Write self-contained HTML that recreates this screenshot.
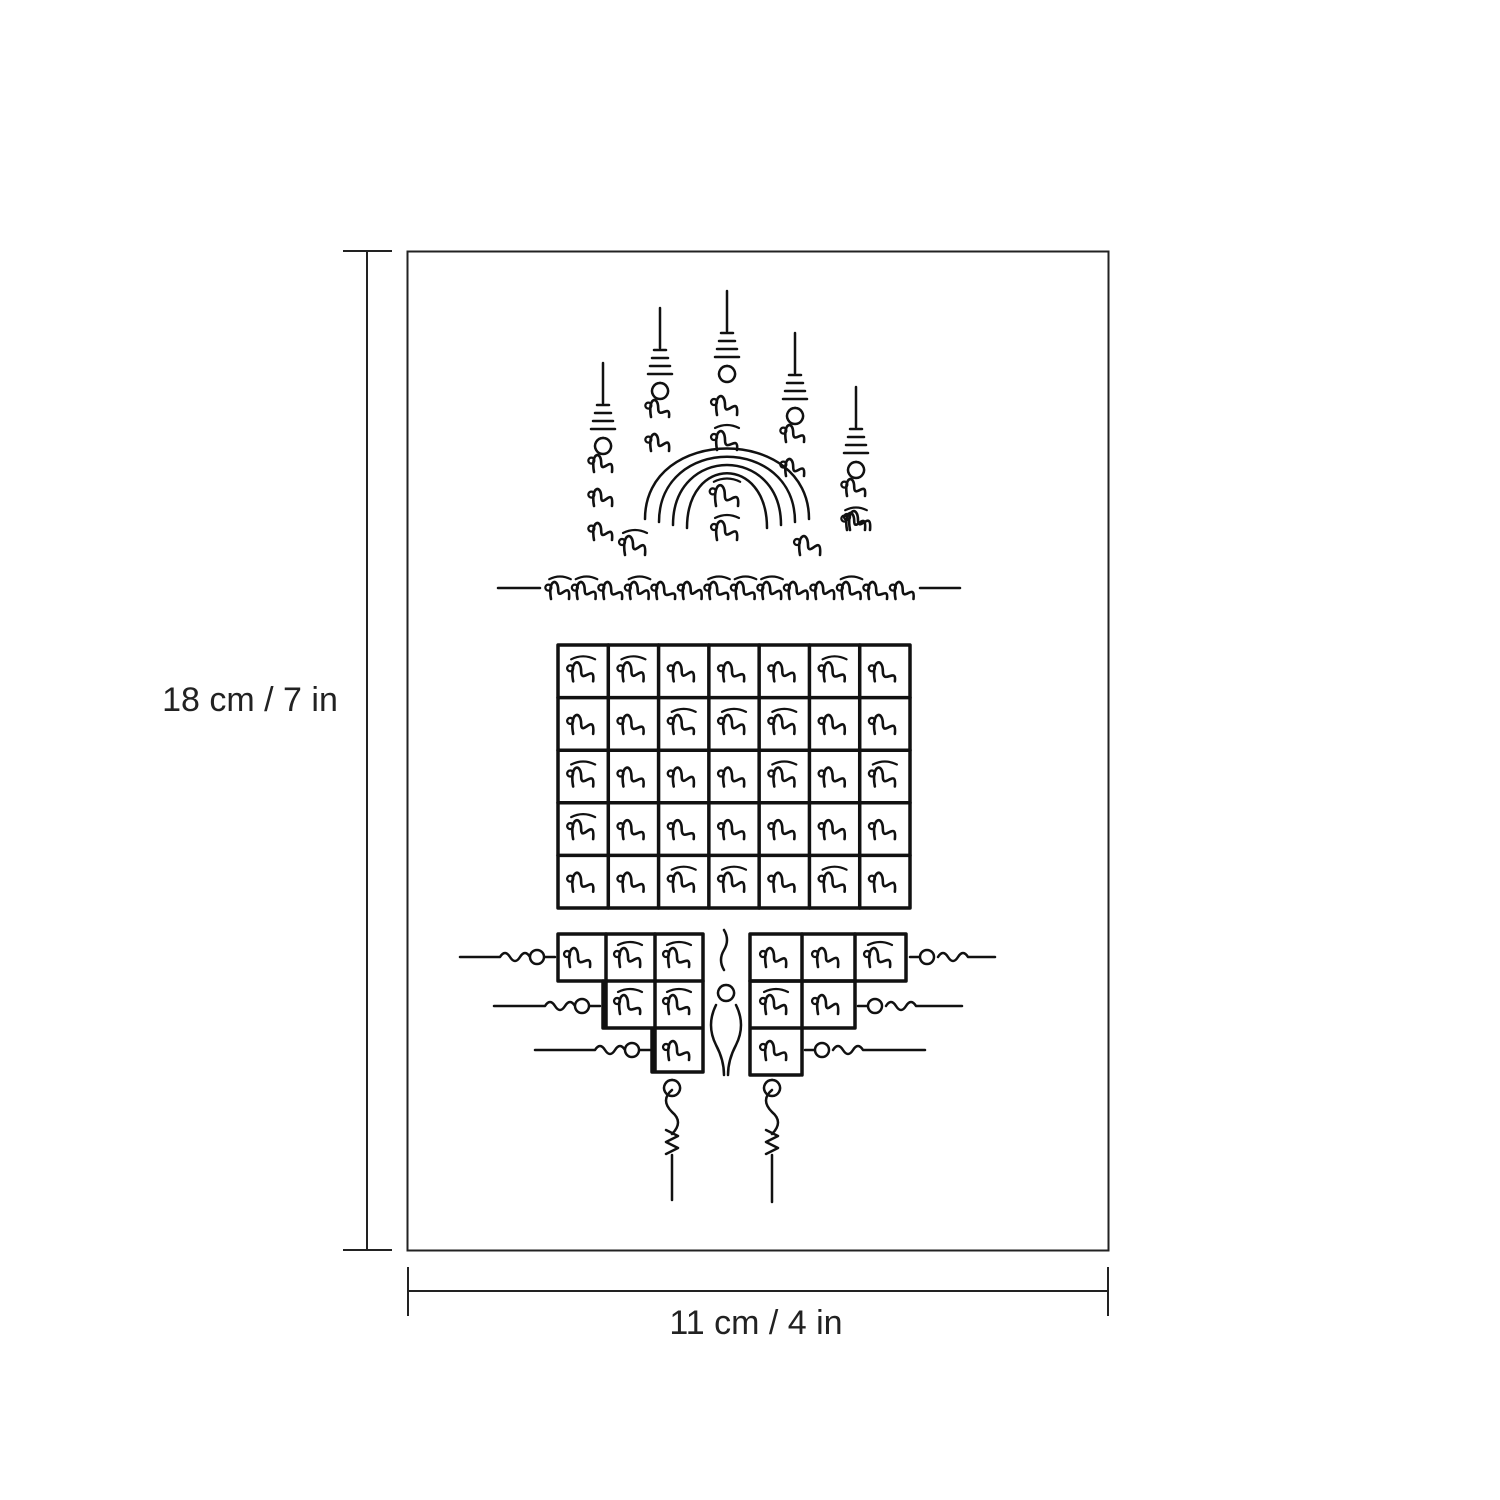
<!DOCTYPE html>
<html><head><meta charset="utf-8"><style>
html,body{margin:0;padding:0;background:#fff;}
svg{display:block}
</style></head><body>
<svg id="s" width="1500" height="1500" viewBox="0 0 1500 1500" xmlns="http://www.w3.org/2000/svg" font-family="Liberation Sans, sans-serif">
<rect x="0" y="0" width="1500" height="1500" fill="#fff"/>
<g stroke="#222" stroke-width="2" fill="none">
<rect x="407.5" y="251.5" width="701" height="999"/>
<line x1="367" y1="251" x2="367" y2="1250"/>
<line x1="343" y1="251" x2="392" y2="251"/>
<line x1="343" y1="1250" x2="392" y2="1250"/>
<line x1="408" y1="1291" x2="1108" y2="1291"/>
<line x1="408" y1="1267" x2="408" y2="1316"/>
<line x1="1108" y1="1267" x2="1108" y2="1316"/>
</g>
<text x="250" y="711" font-size="34" text-anchor="middle" fill="#222" font-weight="300">18 cm / 7 in</text>
<text x="756" y="1334" font-size="34" text-anchor="middle" fill="#222" font-weight="300">11 cm / 4 in</text>
<g id="ink" stroke="#111" stroke-width="3" fill="none" stroke-linecap="round" stroke-linejoin="round"></g>
</svg>
<script>
var g=document.getElementById('ink');
function P(d,w){var p=document.createElementNS('http://www.w3.org/2000/svg','path');p.setAttribute('d',d);if(w)p.setAttribute('stroke-width',w);g.appendChild(p);}
function R(x,y,w,h){P('M'+x+' '+y+'h'+w+'v'+h+'h'+(-w)+'z',3.5);}
var seed=7;function rnd(){seed=(seed*9301+49297)%233280;return seed/233280;}
function glyph(cx,cy,s){s=s||1;var a=rnd(),b=rnd();
 var d='M'+(cx-10*s)+' '+(cy+10*s)+' C'+(cx-14*s)+' '+(cy-12*s)+' '+(cx-2*s)+' '+(cy-14*s)+' '+(cx-2*s)+' '+(cy)+
 ' S'+(cx+12*s)+' '+(cy+(a*10-14)*s)+' '+(cx+10*s)+' '+(cy+10*s);
 P(d,2.6);
 P('M'+(cx-13*s)+' '+(cy-6*s)+' a3 3 0 1 0 0.1 0',2.2);
 if(b>0.5)P('M'+(cx-12*s)+' '+(cy-12*s)+' q'+(12*s)+' '+(-6*s)+' '+(24*s)+' 0',2.2);
}
// main grid
var x0=558,y0=645,cw=(910-558)/7,rh=(908-645)/5;
R(x0,y0,352,263);
for(var i=1;i<7;i++)P('M'+(x0+i*cw)+' '+y0+'V908',3.5);
for(var j=1;j<5;j++)P('M'+x0+' '+(y0+j*rh)+'H910',3.5);
for(var i=0;i<7;i++)for(var j=0;j<5;j++)glyph(x0+cw*(i+.5),y0+rh*(j+.5),1);
// lower left boxes
R(558,934,145,47);P('M606 934V1028M655 934V1072M603 981V1028H703M652 1028V1072H703M703 981V1072',3.5);
glyph(580,957);glyph(630,957);glyph(679,957);glyph(630,1004);glyph(679,1004);glyph(679,1050);
R(750,934,156,47);P('M802 934V1075M855 934V1028M750 981V1075H800M750 1028H802M750 981H855V1028H750',3.5);
glyph(776,957);glyph(828,957);glyph(880,957);glyph(776,1004);glyph(828,1004);glyph(776,1050);
// side strokes with squiggles
function lineL(x1,x2,y){P('M'+x1+' '+y+'H'+(x2-55)+' q5 -8 10 0 t10 0 t10 0 M'+(x2-25)+' '+y+' a7 7 0 1 0 14 0 a7 7 0 1 0 -14 0 M'+(x2-10)+' '+y+'h10',2.5);}
function lineR(x1,x2,y){P('M'+x1+' '+y+'h10 M'+(x1+10)+' '+y+' a7 7 0 1 0 14 0 a7 7 0 1 0 -14 0 M'+(x1+28)+' '+y+' q5 -8 10 0 t10 0 t10 0 H'+x2,2.5);}
lineL(460,555,957);lineL(494,600,1006);lineL(535,650,1050);
lineR(910,995,957);lineR(858,962,1006);lineR(805,925,1050);
// center column
P('M724 930 q6 10 0 20 q-6 10 0 20 M726 985 a8 8 0 1 0 0.1 0 M716 1005 q-10 20 0 40 q8 15 8 30 M736 1005 q10 20 0 40 q-8 15 -8 30',2.5);
// bottom stems
function stem(x,y1,y2){P('M'+x+' '+y1+' a8 8 0 1 0 0.1 0 M'+x+' '+(y1+10)+' q-12 10 0 22 q12 10 0 22 M'+(x-6)+' '+(y1+50)+' l12 6 l-12 6 l12 6 l-12 6 M'+x+' '+(y1+75)+'V'+y2,2.5);}
stem(672,1080,1200);stem(772,1080,1202);
// header line
P('M498 588H540',2.5);P('M920 588H960',2.5);
for(var k=0;k<14;k++)glyph(560+k*26.5,590,0.9);
// top stems
function tstem(x,top,bot){P('M'+x+' '+top+'V'+(top+40),2.5);for(var t=0;t<4;t++)P('M'+(x-6-t*2)+' '+(top+42+t*8)+'h'+(12+t*4),2.5);P('M'+x+' '+(top+75)+' a8 8 0 1 0 0.1 0',2.5);
 for(var y=top+100;y<bot;y+=34)glyph(x,y,0.9);}
tstem(603,363,560);tstem(660,308,470);tstem(727,291,370);tstem(795,333,470);tstem(856,387,545);
// central arch
for(var r=0;r<4;r++){var w=40+r*14;P('M'+(727-w)+' '+(528-r*3)+' C'+(727-w)+' '+(455-r*10)+' '+(727+w)+' '+(455-r*10)+' '+(727+w)+' '+(528-r*3),2.5);}
glyph(727,495,1.1);glyph(727,530,1);glyph(727,440,1);glyph(727,405,1);
glyph(635,545);glyph(810,545);glyph(860,520);
</script>
</body></html>
